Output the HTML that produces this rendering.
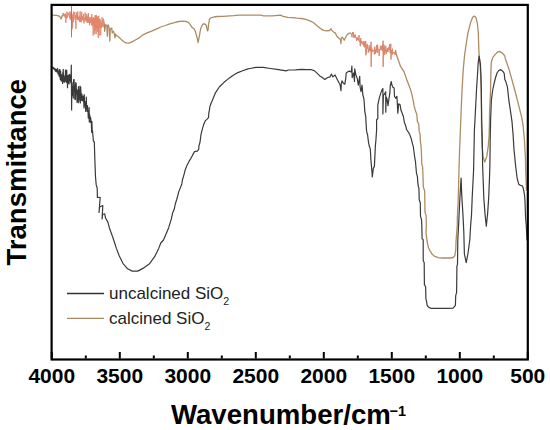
<!DOCTYPE html>
<html><head><meta charset="utf-8">
<style>
html,body{margin:0;padding:0;background:#fff;}
body{width:550px;height:430px;overflow:hidden;position:relative;font-family:"Liberation Sans",sans-serif;}
svg{position:absolute;left:0;top:0;}
</style></head>
<body>
<svg width="550" height="430" viewBox="0 0 550 430">
<g fill="none" stroke-linejoin="round" stroke-linecap="round">
<polyline points="52.0,15.2 56.5,15.4 58.9,16.0 60.6,17.5 61.0,19.0 62.2,15.6 63.0,15.8 63.2,13.5" stroke="#ad8c62" stroke-width="1.3"/>
<polyline points="63.2,13.5 63.6,14.1 64.1,16.0 64.4,13.9 64.8,16.0 65.1,17.7 65.5,13.6 65.8,22.8 66.3,15.2 66.6,18.2 67.0,11.6 67.3,17.4 67.6,17.3 68.1,12.7 68.5,14.8 68.8,14.3 69.3,16.5 69.6,17.9 69.9,11.5 70.3,19.9 70.7,12.5 71.1,16.0 71.4,13.3 71.9,29.7 72.1,15.1 72.6,27.7 73.0,13.8 73.3,22.2 73.7,11.6 74.2,14.1 74.5,12.3 74.9,19.5 75.4,15.3 75.9,28.9 76.2,12.3 76.6,18.4 77.0,13.6 77.4,19.9 77.7,11.5 78.1,20.4 78.4,17.1 78.8,20.1 79.2,15.8 79.6,22.0 80.1,11.4 80.5,21.7 80.9,17.0 81.3,22.3 81.7,11.8 82.2,20.1 82.7,16.4 83.2,20.5 83.6,13.9 84.0,23.4 84.3,18.0 84.8,21.5 85.2,12.5 85.5,19.9 85.9,16.6 86.3,21.4 86.8,14.0 87.2,23.0 87.6,16.4 88.0,22.6 88.4,13.1 88.8,23.0 89.2,17.7 89.6,25.4 90.0,17.3 90.5,23.0 91.0,17.1 91.5,25.2 91.8,14.3 92.3,25.8 92.7,17.8 93.2,35.5 93.6,17.5 94.0,24.8 94.4,18.1 94.7,34.2 95.1,15.2 95.5,30.6 95.9,15.4 96.2,34.1 96.5,15.4 96.8,28.4 97.2,17.8 97.6,31.9 97.9,16.3 98.3,38.0 98.7,15.8 99.1,35.6 99.4,18.7 99.9,27.8 100.4,19.5 100.7,35.3 101.1,22.4 101.6,28.0 102.1,17.2 102.4,26.2 102.7,20.5 103.2,27.2 103.5,18.7 104.5,24.0" stroke="#e0856a" stroke-width="0.9"/>
<polyline points="104.5,24.0 104.6,31.3 105.7,24.8 106.9,25.6 107.3,36.2 107.6,26.0 108.1,24.8 109.0,27.2 109.8,41.0 110.2,29.0 110.6,29.3 111.8,28.0 112.2,32.9 113.4,31.3 114.3,33.7 115.0,37.8 115.4,34.0 116.3,35.4 118.7,37.0 121.2,39.4 123.6,41.5 126.1,43.1 128.5,43.1 130.9,42.3 133.4,41.1 135.8,39.8 138.3,38.4 142.5,35.2 147.1,32.9 151.6,31.1 156.2,29.1 160.7,27.0 165.3,25.5 169.8,23.8 174.4,22.7 178.9,21.5 182.5,21.1 185.8,21.3 188.6,22.6 190.4,24.9 191.8,27.2 193.2,28.1 194.6,29.5 195.6,32.3 196.5,35.6 197.4,38.8 198.1,42.6 198.8,38.8 199.7,34.2 200.7,28.6 202.1,25.3 203.5,23.8 204.9,24.0 206.3,25.3 207.0,28.6 207.4,30.9 208.1,30.0 208.6,24.0 209.5,19.3 210.9,17.9 213.7,17.0 217.4,16.5 223.0,16.3 233.6,15.7 239.1,15.2 260.9,15.2 263.6,15.9 272.3,15.9 280.5,15.2 283.2,16.4 287.7,17.3 292.3,17.7 296.8,18.2 301.4,18.5 305.9,19.4 310.5,21.2 313.3,22.5 316.5,25.2 319.8,28.0 323.0,30.1 326.3,30.9 329.5,30.5 331.1,28.8 331.6,30.1 333.6,32.1 335.2,32.9 336.9,36.2 338.9,38.2 340.5,39.4 340.9,43.5 341.3,38.5 342.2,37.0 344.2,40.2 346.2,36.2 348.3,33.7 350.0,33.0 350.5,33.4" stroke="#ad8c62" stroke-width="1.3"/>
<polyline points="350.5,33.4 350.9,34.3 351.5,33.8 352.0,37.3 352.4,32.1 352.9,34.3 353.3,32.2 353.8,37.7 354.2,35.0 354.5,37.3 355.1,34.5 355.7,38.0 356.2,37.5 356.6,41.0 357.2,37.3 357.5,39.9 357.9,38.8 358.5,40.4 359.0,35.1 359.4,41.7 359.9,40.6 360.3,46.2 360.7,38.1 361.1,43.8 361.7,40.9 362.0,41.7 362.5,42.1 362.9,44.6 363.5,41.6 363.9,46.7 364.3,41.5 364.7,47.3 365.3,45.1 365.8,41.0 365.9,55.3 366.0,48.4 366.1,45.4 366.7,53.0 367.1,43.8 367.7,48.6 368.2,48.5 368.7,52.5 369.2,45.2 369.5,50.8 370.1,47.1 370.6,51.4 371.1,41.7 371.2,66.8 371.3,47.4 371.5,54.5 371.9,48.6 372.3,51.9 372.8,50.1 373.3,50.3 373.8,50.1 374.4,54.4 374.8,46.6 375.3,53.8 375.7,49.4 376.3,51.3 376.7,45.0 377.2,53.0 377.6,44.7 378.0,49.6 378.6,49.0 379.2,55.9 379.7,49.1 380.0,49.6 380.5,45.8 381.1,50.3 381.5,46.2 381.9,49.1 382.3,45.1 382.7,51.0 383.1,40.7 383.2,66.8 383.3,44.4 383.7,54.8 384.1,44.9 384.6,54.7 385.1,48.9 385.4,51.7 385.8,45.9 386.2,54.2 386.6,49.5 387.0,51.7 387.5,48.2 387.9,52.1 388.5,47.3 389.1,50.2 389.7,44.2 390.2,53.2 390.6,44.8 390.9,43.8 391.0,59.5 391.1,54.3 391.5,50.3 392.0,55.0 392.4,48.6 392.9,53.6 393.4,52.1 393.9,53.3 394.4,52.4 395.0,54.8 395.5,50.5" stroke="#d9866a" stroke-width="1"/>
<polyline points="395.5,50.5 396.5,55.0 400.3,65.8 404.2,72.2 407.1,80.6 408.5,84.3 410.3,89.0 411.7,93.6 413.1,100.1 414.1,105.7 415.2,110.0 416.9,114.7 417.3,121.2 418.7,124.0 419.2,131.4 420.1,134.2 420.3,140.7 421.0,146.3 421.3,150.0 421.5,155.5 421.8,163.8 422.6,167.0 423.0,176.4 423.3,186.9 424.2,189.5 424.7,191.3 425.0,212.2 426.1,215.4 426.3,225.0 426.0,233.4 426.7,238.6 427.6,243.8 428.6,248.0 430.2,251.2 432.3,254.3 434.9,256.4 438.0,257.7 442.2,258.0 450.6,258.0 453.1,257.5 454.8,255.7 455.7,250.5 456.1,240.0 457.3,225.0 457.3,218.9 458.1,202.6 459.0,170.0 459.6,150.0 460.4,130.0 461.1,111.8 462.0,90.9 463.2,70.0 464.6,55.0 465.6,48.0 466.4,42.5 468.0,32.7 470.5,22.9 472.6,17.2 474.2,16.1 475.8,17.2 477.3,22.9 478.3,32.7 478.7,45.0 479.1,55.5 480.2,66.0 480.7,76.4 481.2,90.0 481.4,105.9 481.5,125.0 482.0,145.9 483.1,156.4 484.7,162.2 486.8,156.4 488.3,145.9 489.1,135.5 489.4,125.0 489.6,110.0 490.4,95.0 490.9,71.2 491.4,61.8 492.7,57.6 495.3,54.4 497.9,51.8 500.0,51.5 502.7,53.4 504.8,56.0 505.3,58.6 506.8,62.8 508.9,69.1 511.0,76.4 513.1,84.0 516.2,95.5 518.8,105.9 521.5,116.4 523.0,124.8 524.0,135.0 524.5,141.3 525.4,157.6 525.8,173.9 526.5,190.0" stroke="#ad8c62" stroke-width="1.3"/>
<line x1="71.5" y1="6" x2="71.5" y2="37" stroke="#c8705a" stroke-width="1"/>
<polyline points="52.0,66.9 52.3,67.3 52.6,67.1 52.8,67.6 53.1,67.8 53.4,68.9 53.6,67.5 53.9,68.9 54.1,68.1 54.5,69.3 54.8,68.5 55.0,70.1 55.3,69.3 55.5,71.1 55.8,69.0 56.1,71.6 56.5,70.2 56.8,71.8 57.1,69.0 57.4,71.7 57.6,68.7 57.9,73.8 58.1,71.1 58.4,73.4 58.7,71.1 59.0,75.9 59.4,69.6 59.7,76.9 60.0,69.7 60.3,79.7 60.6,71.0 60.8,79.9 61.1,74.2 61.3,81.0 61.7,75.5 62.0,77.9 62.2,74.9 62.6,83.4 62.8,72.4 63.0,82.2 63.2,69.3 63.6,80.3 64.0,75.9 64.2,81.8 64.4,76.9 64.6,82.2 64.9,77.8 65.2,79.6 65.5,70.0 65.8,81.1 66.1,73.7 66.4,82.3 66.7,70.1 67.0,81.1 67.3,77.9 67.5,87.7 67.8,75.5 68.0,81.2 68.3,79.1 68.6,83.4 68.8,75.0 69.1,84.0 69.3,74.4 69.7,79.4 69.9,74.9 70.2,80.9 70.5,76.8 70.8,82.7 71.0,79.8 71.3,65.0 71.6,110.0 71.9,82.0 72.1,84.5 72.3,95.4 72.6,87.2 72.8,95.1 73.0,86.6 73.3,97.9 73.6,79.6 73.8,91.4 74.1,79.5 74.4,91.0 74.6,85.6 74.8,99.2 75.2,89.8 75.4,99.6 75.7,82.5 76.0,91.8 76.2,83.3 76.4,93.9 76.7,89.0 77.0,102.2 77.2,92.3 77.6,101.8 77.9,90.0 78.3,102.8 78.5,86.7 78.8,99.0 79.1,92.3 79.4,94.9 79.6,89.8 79.8,101.2 80.0,86.2 80.3,102.9 80.7,87.0 81.0,95.0 81.3,94.8 81.5,100.3 81.8,93.9 82.2,100.4 82.4,95.8 82.8,99.8 83.1,96.2 83.3,101.6 83.7,98.8 84.0,107.9 84.3,94.7 84.5,105.9 84.9,102.5 85.1,104.4 85.4,101.8 85.7,111.4 85.9,105.5 86.1,106.6 86.3,97.0 86.6,108.1 86.9,107.0 87.2,111.5 87.5,105.6 87.7,111.6 88.0,111.1 88.3,118.2 88.5,112.6 88.8,115.5 89.1,107.5 89.3,122.0 89.6,114.0 89.9,120.5 90.2,116.5 90.5,122.4 90.7,117.9 91.0,122.4 91.3,121.9 91.7,132.5 91.9,121.4 92.2,130.2 92.5,130.8 93.4,141.0 94.3,142.0 94.8,158.0 95.5,176.7 96.2,184.9 97.2,188.0 97.4,197.5 100.2,197.3 99.0,212.5 99.6,207.0 102.8,205.5 102.1,218.9 102.6,214.5 104.7,213.8 105.5,218.0 107.9,222.1 109.2,227.2 110.5,231.0 112.4,236.2 113.7,240.0 116.4,248.4 119.2,255.8 122.9,263.3 127.6,268.8 132.2,271.1 137.8,271.1 142.9,268.4 149.8,263.4 154.8,256.4 158.7,248.4 160.8,243.0 163.5,240.0 165.8,234.4 168.6,227.9 171.4,218.6 172.6,213.0 174.2,209.3 175.3,204.0 176.7,199.5 177.7,196.0 178.6,192.1 180.5,187.4 181.9,183.7 182.4,180.0 183.8,175.3 185.2,169.8 187.1,165.1 189.0,161.4 190.8,158.6 192.7,154.9 194.5,151.6 197.3,151.2 198.7,149.3 199.0,145.6 199.9,142.8 200.3,140.0 201.0,134.4 202.4,128.8 203.8,124.2 205.2,120.9 207.1,119.1 208.5,117.7 208.8,113.0 209.4,110.2 209.9,106.5 211.3,102.8 212.5,100.0 215.6,92.6 219.3,87.0 224.0,82.3 228.6,78.6 233.3,75.3 237.9,72.6 242.6,70.7 247.2,69.1 250.0,68.5 255.9,67.3 263.2,67.3 270.5,68.5 276.8,69.4 283.2,70.3 285.9,70.9 288.6,70.0 295.6,69.9 301.2,69.4 306.7,69.7 311.4,69.7 314.2,70.6 317.0,73.1 319.8,75.9 322.6,77.8 324.9,79.4 327.2,77.8 330.0,76.9 331.4,74.1 332.8,76.9 335.1,75.0 336.4,77.7 337.8,80.5 339.2,83.3 340.1,84.7 341.0,90.7 341.3,84.0 342.0,80.9 343.4,83.3 344.8,84.2 345.7,78.6 346.2,73.0 348.0,71.6 349.9,71.2 351.3,72.1 351.9,66.0 352.2,77.7 353.6,73.0 354.5,81.4 354.7,68.8 355.9,74.9 357.3,78.6 358.3,85.1 359.7,76.3 360.1,87.0 361.0,91.6 362.0,85.1 362.9,95.3 363.8,98.1 364.3,103.4 364.8,111.7 365.7,116.4 366.2,125.7 366.6,131.3 367.6,135.0 368.4,141.3 369.1,145.5 370.2,148.6 370.5,152.8 370.9,160.1 371.5,166.4 372.1,173.7 372.3,176.9 373.3,168.5 374.4,166.4 374.9,155.9 375.4,145.5 375.9,140.2 376.6,130.0 376.6,119.7 377.8,118.7 377.8,105.2 379.2,98.3 380.6,93.6 382.0,89.9 382.9,88.5 382.9,114.0 383.4,95.0 384.3,94.5 385.7,91.7 385.8,112.2 386.2,97.0 387.1,99.2 388.0,105.7 389.0,98.3 389.9,92.7 390.3,85.2 391.3,81.5 391.7,84.3 392.7,87.1 394.1,88.0 394.5,96.4 395.9,98.3 396.9,96.4 397.3,102.9 397.8,113.1 398.7,103.8 400.1,104.8 401.0,110.3 402.0,112.8 403.4,116.5 404.3,122.1 405.7,125.8 406.6,129.5 408.5,132.3 409.9,135.1 411.3,138.8 412.2,142.6 413.4,147.2 413.9,151.3 414.6,156.5 415.5,161.8 416.0,168.0 416.5,173.3 417.4,176.4 417.8,182.7 418.4,186.9 418.9,188.1 419.2,199.7 420.3,202.8 420.5,216.4 421.5,219.6 421.8,225.0 422.1,238.6 423.2,239.7 423.2,260.6 424.2,262.7 424.4,284.8 425.6,286.5 425.9,298.7 426.7,302.2 427.1,305.1 428.5,307.1 430.8,308.3 448.0,308.3 453.1,308.1 455.4,305.4 455.7,295.8 456.6,292.4 456.9,266.2 457.5,264.4 457.8,240.0 458.6,225.0 459.3,210.0 460.1,194.4 461.1,178.1 461.7,194.4 463.0,215.6 463.8,231.9 464.4,254.0 466.2,262.7 467.9,254.0 469.8,240.0 470.6,226.0 471.5,215.0 472.2,197.6 473.6,170.0 474.0,150.0 474.4,130.0 475.0,119.6 475.8,103.8 476.6,88.0 477.4,76.4 478.1,63.8 479.1,56.0 480.4,63.8 481.0,76.4 481.3,90.0 481.5,106.0 481.7,119.6 482.3,140.0 482.6,165.0 483.8,197.6 485.0,213.9 486.3,226.1 487.6,213.9 488.7,197.6 489.5,178.0 489.9,165.0 490.2,140.0 490.6,120.0 491.4,100.0 492.7,90.0 493.8,84.8 495.3,78.5 496.9,73.3 498.5,70.7 500.6,69.6 502.7,71.2 504.2,73.3 504.8,79.6 505.8,81.6 507.4,86.9 508.9,100.7 510.5,111.2 512.0,121.6 513.1,135.0 514.0,149.4 515.6,165.7 517.2,178.7 518.8,184.4 520.5,185.3 522.6,186.1 523.7,190.1 524.5,195.0 525.0,201.4 525.6,218.1 526.2,224.4 527.0,240.0" stroke="#3a3a3a" stroke-width="1.2"/>
</g>
<!-- frame -->
<rect x="51.6" y="4.9" width="476.2" height="354.6" fill="none" stroke="#000" stroke-width="2.2"/>
<!-- ticks -->
<g stroke="#000" stroke-width="2"><line x1="51.80" y1="358.5" x2="51.80" y2="352"/><line x1="85.80" y1="358.5" x2="85.80" y2="355.5"/><line x1="119.80" y1="358.5" x2="119.80" y2="352"/><line x1="153.80" y1="358.5" x2="153.80" y2="355.5"/><line x1="187.80" y1="358.5" x2="187.80" y2="352"/><line x1="221.80" y1="358.5" x2="221.80" y2="355.5"/><line x1="255.80" y1="358.5" x2="255.80" y2="352"/><line x1="289.80" y1="358.5" x2="289.80" y2="355.5"/><line x1="323.80" y1="358.5" x2="323.80" y2="352"/><line x1="357.80" y1="358.5" x2="357.80" y2="355.5"/><line x1="391.80" y1="358.5" x2="391.80" y2="352"/><line x1="425.80" y1="358.5" x2="425.80" y2="355.5"/><line x1="459.80" y1="358.5" x2="459.80" y2="352"/><line x1="493.80" y1="358.5" x2="493.80" y2="355.5"/><line x1="527.80" y1="358.5" x2="527.80" y2="352"/></g>
<!-- tick labels -->
<g font-family="Liberation Sans" font-weight="bold" font-size="21" fill="#000" text-anchor="middle"><text x="51.80" y="383">4000</text><text x="119.80" y="383">3500</text><text x="187.80" y="383">3000</text><text x="255.80" y="383">2500</text><text x="323.80" y="383">2000</text><text x="391.80" y="383">1500</text><text x="459.80" y="383">1000</text><text x="527.80" y="383">500</text></g>
<!-- axis titles -->
<text x="171" y="423.7" font-family="Liberation Sans" font-weight="bold" font-size="27.6" fill="#000">Wavenumber/cm</text><text x="389.5" y="415.9" font-family="Liberation Sans" font-weight="bold" font-size="14.5" fill="#000">−1</text>
<text transform="translate(26.2,172.2) rotate(-90)" text-anchor="middle" font-family="Liberation Sans" font-weight="bold" font-size="27.5" fill="#000">Transmittance</text>
<!-- legend -->
<line x1="67" y1="293.5" x2="104" y2="293.5" stroke="#333" stroke-width="1.3"/>
<line x1="67" y1="318.3" x2="104" y2="318.3" stroke="#a88a62" stroke-width="1.3"/>
<g font-family="Liberation Sans" font-size="17" fill="#222">
<text x="109" y="299.2">uncalcined SiO<tspan font-size="10.5" dy="5.6">2</tspan></text>
<text x="109" y="324.3">calcined SiO<tspan font-size="10.5" dy="5.6">2</tspan></text>
</g>
</svg>
</body></html>
